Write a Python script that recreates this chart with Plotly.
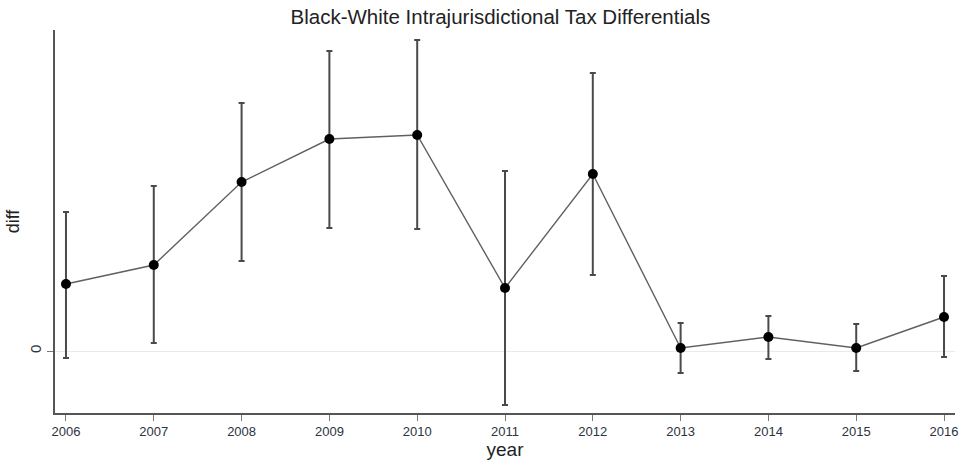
import plotly.graph_objects as go

# Yearly black-white differential estimates with 95% confidence bounds
years = [2006, 2007, 2008, 2009, 2010, 2011, 2012, 2013, 2014, 2015, 2016]
diff = [0.67, 0.86, 1.69, 2.12, 2.16, 0.63, 1.77, 0.03, 0.14, 0.03, 0.34]
ci_upper = [1.39, 1.65, 2.48, 3.00, 3.11, 1.80, 2.78, 0.28, 0.35, 0.27, 0.75]
ci_lower = [-0.07, 0.08, 0.90, 1.23, 1.22, -0.54, 0.76, -0.22, -0.08, -0.20, -0.06]

err_plus = [u - d for u, d in zip(ci_upper, diff)]
err_minus = [d - l for d, l in zip(diff, ci_lower)]

font_family = "Liberation Sans, Arial, sans-serif"

fig = go.Figure()
fig.add_trace(go.Scatter(
    x=years,
    y=diff,
    mode="lines+markers",
    line=dict(color="#606060", width=1.4),
    marker=dict(color="black", size=10),
    error_y=dict(
        type="data",
        symmetric=False,
        array=err_plus,
        arrayminus=err_minus,
        color="#4a4a4a",
        thickness=2,
        width=3,
    ),
    showlegend=False,
))

fig.update_layout(
    width=966,
    height=466,
    margin=dict(l=55, r=8, t=30, b=53),
    paper_bgcolor="white",
    plot_bgcolor="white",
    title=dict(
        text="Black-White Intrajurisdictional Tax Differentials",
        x=0.518, xanchor="center", y=0.963, yanchor="middle",
        font=dict(family=font_family, size=20.5, color="#222"),
    ),
    font=dict(family=font_family),
)

fig.update_xaxes(
    range=[2005.875, 2016.125],
    tickmode="array",
    tickvals=years,
    ticktext=[str(y) for y in years],
    ticks="outside",
    ticklen=6,
    tickcolor="#777",
    tickwidth=1,
    showline=True,
    linecolor="#555",
    linewidth=1.5,
    showgrid=False,
    zeroline=False,
    tickfont=dict(size=13, color="#2c3440"),
    title=dict(text="year", font=dict(size=19, color="#222"), standoff=1),
)

fig.update_yaxes(
    range=[-0.62, 3.21],
    tickmode="array",
    tickvals=[0],
    ticktext=["0"],
    tickangle=-90,
    ticks="outside",
    ticklen=6,
    tickcolor="#777",
    showline=True,
    linecolor="#555",
    linewidth=1.5,
    showgrid=True,
    gridcolor="#e6ecee",
    gridwidth=1,
    zeroline=False,
    tickfont=dict(size=15, color="#2c3440"),
    title=dict(text="diff", font=dict(size=18, color="#222"), standoff=3),
)

fig.write_html("out.html")
